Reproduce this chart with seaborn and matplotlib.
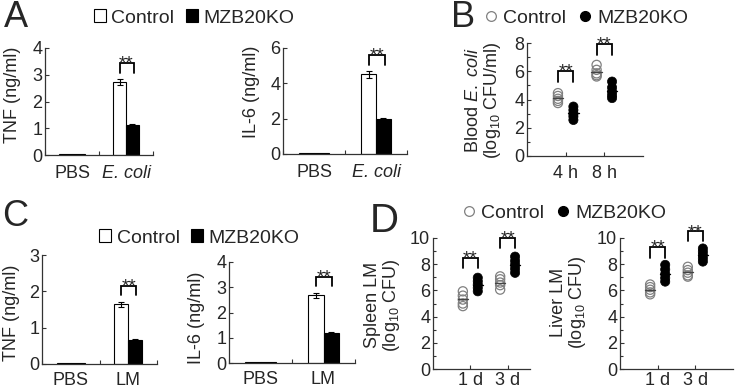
import numpy as np
import pandas as pd
import matplotlib
matplotlib.use('Agg')
import matplotlib.pyplot as plt
from matplotlib.lines import Line2D
from matplotlib.patches import Patch
from matplotlib.ticker import MultipleLocator
import seaborn as sns

groups = ['Control', 'MZB20KO']

# A: serum cytokines, E. coli infection
cond_a = ['PBS', 'E. coli']
tnf_a_ctrl = [0.02, 2.73]
tnf_a_ctrl_err = [0.0, 0.10]
tnf_a_ko = [0.02, 1.12]
tnf_a_ko_err = [0.0, 0.03]
il6_a_ctrl = [0.03, 4.52]
il6_a_ctrl_err = [0.0, 0.20]
il6_a_ko = [0.03, 1.96]
il6_a_ko_err = [0.0, 0.07]

# B: blood E. coli (log10 CFU/ml)
time_b = ['4 h', '8 h']
blood_ctrl = [[4.45, 4.25, 4.05, 3.9, 3.75], [6.45, 6.1, 5.85, 5.72, 5.63]]
blood_ko = [[3.5, 3.25, 3.0, 2.8, 2.55], [5.27, 4.85, 4.55, 4.3, 4.1]]

# C: serum cytokines, LM infection
cond_c = ['PBS', 'LM']
tnf_c_ctrl = [0.02, 1.64]
tnf_c_ctrl_err = [0.0, 0.06]
tnf_c_ko = [0.02, 0.67]
tnf_c_ko_err = [0.0, 0.02]
il6_c_ctrl = [0.02, 2.68]
il6_c_ctrl_err = [0.0, 0.10]
il6_c_ko = [0.02, 1.20]
il6_c_ko_err = [0.0, 0.04]

# D: LM burden (log10 CFU)
time_d = ['1 d', '3 d']
spleen_ctrl = [[5.93, 5.6, 5.3, 5.0, 4.8], [7.07, 6.85, 6.6, 6.4, 6.06]]
spleen_ko = [[6.97, 6.7, 6.45, 6.2, 5.93], [8.58, 8.25, 7.95, 7.65, 7.34]]
liver_ctrl = [[6.45, 6.25, 6.05, 5.85, 5.7], [7.8, 7.55, 7.35, 7.15, 7.05]]
liver_ko = [[7.95, 7.6, 7.25, 6.95, 6.67], [9.2, 8.95, 8.7, 8.45, 8.2]]

sns.set_style('ticks')
plt.rcParams['font.family'] = ['Liberation Sans', 'DejaVu Sans']
plt.rcParams['mathtext.fontset'] = 'custom'
plt.rcParams['mathtext.rm'] = 'Liberation Sans'
plt.rcParams['mathtext.it'] = 'Liberation Sans:italic'

W, H = 738, 392
fig = plt.figure(figsize=(W / 100, H / 100), dpi=100)
AX_COL = '#333333'
FS = 13


def add_ax(L, T, R, B):
    ax = fig.add_axes([L / W, 1 - B / H, (R - L) / W, (B - T) / H])
    ax.box = (L, T, R, B)
    return ax


def style_ax(ax, ylabel, lab_x, lab_y, xpad):
    L, T, R, B = ax.box
    sns.despine(ax=ax)
    for s in ['left', 'bottom']:
        ax.spines[s].set_color(AX_COL)
        ax.spines[s].set_linewidth(0.9)
    ax.tick_params(axis='y', which='both', direction='in', color=AX_COL,
                   labelsize=FS, pad=2, length=3, width=0.8)
    ax.tick_params(axis='y', which='minor', length=2)
    ax.tick_params(axis='x', which='major', labelsize=FS, pad=xpad)
    ax.set_xlabel('')
    ax.set_ylabel(ylabel, fontsize=FS, linespacing=1.0)
    ax.yaxis.set_label_coords((lab_x - L) / (R - L), (B - lab_y) / (B - T))


def bracket(ax, x0, x1, leg, top):
    ax.plot([x0, x0, x1, x1], [leg, top, top, leg], color='black', lw=1.3,
            clip_on=False, solid_joinstyle='miter')
    ax.annotate('**', ((x0 + x1) / 2, top), xytext=(0, -4),
                textcoords='offset points', ha='center', va='baseline',
                fontsize=13.5, annotation_clip=False)


def bar_panel(box, conds, ctrl, ctrl_err, ko, ko_err, ymax, ystep, xlim,
              ylabel, lab_x, lab_y, xpad, sig):
    ax = add_ax(*box)
    n = len(conds)
    df = pd.DataFrame({'cond': conds * 2,
                       'group': ['Control'] * n + ['MZB20KO'] * n,
                       'val': ctrl + ko})
    sns.barplot(data=df, x='cond', y='val', hue='group', order=conds,
                hue_order=groups, palette={'Control': 'white', 'MZB20KO': 'black'},
                edgecolor='black', linewidth=0.8, width=0.48, saturation=1,
                errorbar=None, legend=False, ax=ax)
    for off, means, errs in [(-0.12, ctrl, ctrl_err), (0.12, ko, ko_err)]:
        for i, (m, e) in enumerate(zip(means, errs)):
            if e > 0:
                ax.errorbar(i + off, m, yerr=e, fmt='none', ecolor='black',
                            elinewidth=0.8, capsize=2, capthick=0.8, zorder=4)
    idx = n - 1
    bracket(ax, idx - 0.12, idx + 0.14, sig[0], sig[1])
    ax.set_xlim(*xlim)
    ax.set_ylim(0, ymax)
    ax.yaxis.set_major_locator(MultipleLocator(ystep))
    ax.set_xticks(range(n))
    ax.set_xticklabels(conds)
    ax.set_xticks([i + 0.5 for i in range(-1, n)], minor=True)
    ax.tick_params(axis='x', which='major', length=0)
    ax.tick_params(axis='x', which='minor', direction='in', length=3,
                   color=AX_COL, width=0.8)
    for lbl in ax.get_xticklabels():
        if lbl.get_text() == 'E. coli':
            lbl.set_fontstyle('italic')
    style_ax(ax, ylabel, lab_x, lab_y, xpad)
    return ax


def dot_panel(box, times, ctrl, ko, ymax, xlim, ylabel, lab_x, lab_y, xpad, sigs):
    ax = add_ax(*box)
    rows = []
    for t, c_vals, k_vals in zip(times, ctrl, ko):
        rows += [(t, 'Control', v) for v in c_vals]
        rows += [(t, 'MZB20KO', v) for v in k_vals]
    df = pd.DataFrame(rows, columns=['time', 'group', 'val'])
    pal = {'Control': 'white', 'MZB20KO': 'black'}
    sns.stripplot(data=df[df.group == 'Control'], x='time', y='val', hue='group',
                  order=times, hue_order=groups, palette=pal, dodge=True,
                  jitter=False, size=6.6, linewidth=0.9, edgecolor='#808080',
                  legend=False, ax=ax)
    for coll in ax.collections:
        coll.set_facecolor('none')
    sns.stripplot(data=df[df.group == 'MZB20KO'], x='time', y='val', hue='group',
                  order=times, hue_order=groups, palette=pal, dodge=True,
                  jitter=False, size=6.6, linewidth=0.5, edgecolor='black',
                  legend=False, ax=ax)
    means = df.groupby(['time', 'group'])['val'].mean()
    for i, t in enumerate(times):
        for off, g, col in [(-0.2, 'Control', '#444444'), (0.2, 'MZB20KO', 'black')]:
            ax.plot([i + off - 0.14, i + off + 0.14], [means[(t, g)]] * 2,
                    color=col, lw=1.0, zorder=5)
        bracket(ax, i - 0.2, i + 0.2, sigs[i][0], sigs[i][1])
    ax.set_xlim(*xlim)
    ax.set_ylim(0, ymax)
    ax.yaxis.set_major_locator(MultipleLocator(2))
    ax.yaxis.set_minor_locator(MultipleLocator(1))
    ax.set_xticks(range(len(times)))
    ax.set_xticklabels(times)
    ax.tick_params(axis='x', which='major', direction='in', length=3,
                   color=AX_COL, width=0.8)
    style_ax(ax, ylabel, lab_x, lab_y, xpad)
    return ax


bar_panel((45, 48, 153, 155), cond_a, tnf_a_ctrl, tnf_a_ctrl_err, tnf_a_ko,
          tnf_a_ko_err, 4, 1, (-0.47, 1.27), 'TNF (ng/ml)', 21, 95, 7, (3.05, 3.45))
bar_panel((283, 48, 407, 154), cond_a, il6_a_ctrl, il6_a_ctrl_err, il6_a_ko,
          il6_a_ko_err, 6, 2, (-0.5, 1.5), 'IL-6 (ng/ml)', 260, 92, 7, (5.05, 5.6))
bar_panel((42, 255, 157, 364), cond_c, tnf_c_ctrl, tnf_c_ctrl_err, tnf_c_ko,
          tnf_c_ko_err, 3, 1, (-0.5, 1.32), 'TNF (ng/ml)', 20, 313, 6, (1.9, 2.15))
bar_panel((229, 262, 355, 363), cond_c, il6_c_ctrl, il6_c_ctrl_err, il6_c_ko,
          il6_c_ko_err, 4, 1, (-0.5, 1.5), 'IL-6 (ng/ml)', 205, 318, 6, (3.05, 3.42))

dot_panel((527, 43, 643, 156), time_b, blood_ctrl, blood_ko, 8, (-1, 2),
          'Blood $\\it{E.\\ coli}$\n(log$_\\mathregular{10}$ CFU/ml)', 503, 100, 6.5,
          [(5.25, 6.0), (7.13, 7.95)])
dot_panel((433, 238, 530, 369), time_d, spleen_ctrl, spleen_ko, 10, (-1, 1.6),
          'Spleen LM\n(log$_\\mathregular{10}$ CFU)', 402, 305, 2.5,
          [(7.7, 8.46), (9.2, 9.98)])
dot_panel((620, 238, 733, 369), time_d, liver_ctrl, liver_ko, 10, (-1, 2),
          'Liver LM\n(log$_\\mathregular{10}$ CFU)', 588, 302, 2.5,
          [(8.5, 9.35), (9.8, 10.5)])

# legends
sq = [Patch(facecolor='white', edgecolor='black', lw=0.8),
      Patch(facecolor='black', edgecolor='black', lw=0.8)]
dots = [Line2D([], [], ls='', marker='o', mfc='none', mec='#808080', mew=0.9, ms=7),
        Line2D([], [], ls='', marker='o', mfc='black', mec='black', ms=7)]
leg_kw = dict(loc='center left', ncol=2, frameon=False, fontsize=14,
              handletextpad=0.3, columnspacing=0.6, borderpad=0, borderaxespad=0)
fig.legend(sq, groups, bbox_to_anchor=(94 / W, 1 - 18 / H), handlelength=0.6,
           handleheight=0.6, **leg_kw)
fig.legend(sq, groups, bbox_to_anchor=(99 / W, 1 - 238 / H), handlelength=0.6,
           handleheight=0.6, **leg_kw)
fig.legend(dots, groups, bbox_to_anchor=(484 / W, 1 - 18 / H), handlelength=0.7,
           **leg_kw)
fig.legend(dots, groups, bbox_to_anchor=(462 / W, 1 - 213 / H), handlelength=0.7,
           **leg_kw)

# panel letters (baseline placed at the foot of each glyph)
for letter, x, y, fs in [('A', 16, 27, 26), ('B', 463, 27, 26),
                         ('C', 15, 226, 26), ('D', 384, 232, 29)]:
    fig.text(x / W, 1 - y / H, letter, fontsize=fs, ha='center', va='baseline')

fig.savefig('out.png', dpi=100)
